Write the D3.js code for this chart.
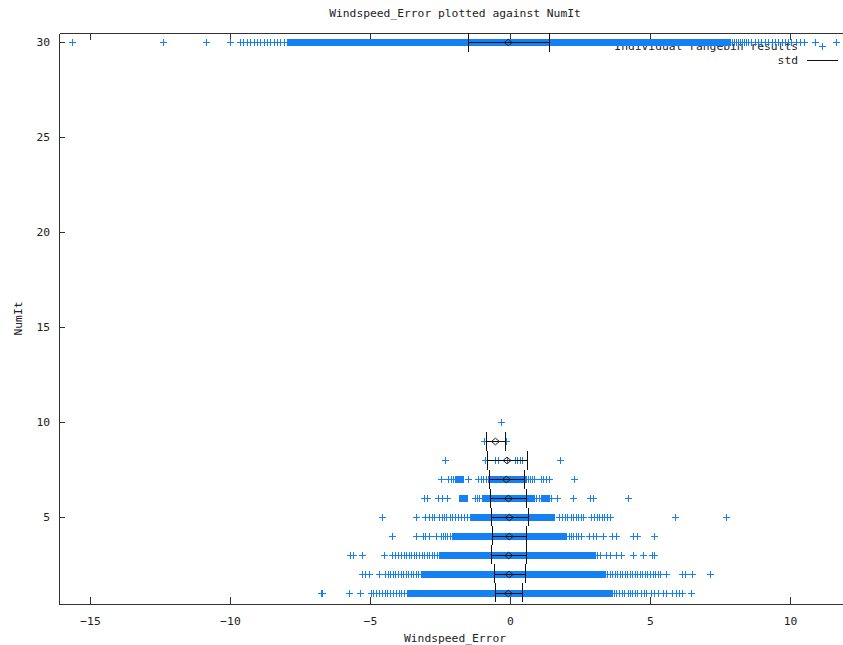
<!DOCTYPE html>
<html>
<head>
<meta charset="utf-8">
<script src="https://cdn.jsdelivr.net/npm/d3@7/dist/d3.min.js"></script>
<style>
  html, body { margin: 0; padding: 0; background: #fff; }
  svg { display: block; }
  text { font-family: "DejaVu Sans Mono", "Liberation Mono", monospace; font-size: 11.3px; fill: #222; }
</style>
</head>
<body>
<svg id="chart" width="843" height="645"></svg>
<script>
// NumIt rows that carry individual rangebin results
const numIt = [1, 2, 3, 4, 5, 6, 7, 8, 9, 10, 30];

// Stretches of Windspeed_Error where the results are packed solid, per row
const denseRuns = [
  [[-3.55, -3.1], [-3.0, 2.89], [2.95, 3.05], [3.15, 3.55]],
  [[-3.08, 3.29]],
  [[-2.42, 1.69], [1.75, 2.23], [2.35, 2.94]],
  [[-1.97, 1.55], [1.62, 1.88]],
  [[-1.29, 1.0], [1.1, 1.25], [1.35, 1.47]],
  [[-1.73, -1.64], [-0.85, 0.72], [1.22, 1.30]],
  [[-1.86, -1.79], [-0.67, 0.47]],
  [],
  [],
  [],
  [[-7.86, 7.7]]
];

// Individual Windspeed_Error values outside the packed stretches, per row
const sparseErr = [
  [-6.76, -6.70, -5.75, -5.37, -4.98, -4.88, -4.78, -4.68, -4.58, -4.48, -4.38, -4.28, -4.18, -4.08, -3.98, -3.88,
   -3.78, -3.68, 3.62, 3.72, 3.80, 3.90, 3.99, 4.08, 4.20, 4.28, 4.37, 4.47, 4.55, 4.67, 4.78, 4.85, 5.03, 5.15,
   5.30, 5.45, 5.57, 5.80, 5.92, 6.04, 6.16, 6.45],
  [-5.28, -5.18, -5.04, -4.68, -4.45, -4.36, -4.27, -4.18, -4.09, -4.00, -3.91, -3.82, -3.73, -3.64, -3.55,
   -3.46, -3.37, -3.28, -3.19,
   3.38, 3.47, 3.56, 3.65, 3.74, 3.83, 3.92, 4.01, 4.10, 4.19, 4.28, 4.37, 4.46, 4.55, 4.64, 4.73, 4.82,
   4.91, 5.00, 5.09, 5.18, 5.27, 5.36, 5.57, 6.14, 6.26, 6.50, 7.14],
  [-5.70, -5.60, -5.28, -4.51, -4.20, -4.10, -4.00, -3.90, -3.80, -3.70, -3.61, -3.52, -3.43, -3.34, -3.25,
   -3.16, -3.07, -2.98, -2.89, -2.80, -2.71, -2.62, -2.53,
   3.02, 3.11, 3.20, 3.42, 3.56, 3.78, 3.96, 4.38, 4.74, 5.08, 5.16],
  [-4.23, -3.37, -3.11, -3.02, -2.90, -2.66, -2.47, -2.40, -2.33, -2.25, -2.16, -2.07,
   1.99, 2.09, 2.17, 2.25, 2.35, 2.44, 2.53, 2.83, 2.95, 3.07, 3.33, 3.66, 3.78, 4.38, 4.52, 5.13],
  [-4.57, -3.37, -3.02, -2.90, -2.80, -2.72, -2.54, -2.44, -2.35, -2.27, -2.16, -2.06, -1.97, -1.87, -1.75,
   -1.66, -1.54, -1.44, -1.37, 1.75, 1.87, 1.95, 2.05, 2.17, 2.25, 2.35, 2.44, 2.53, 2.61,
   2.89, 2.99, 3.09, 3.18, 3.28, 3.37, 3.47, 3.57, 5.89, 7.73],
  [-3.07, -2.95, -2.56, -2.44, -2.24, -1.25, -1.17, -1.09, -0.99, -0.92,
   0.84, 0.92, 1.02, 1.11, 1.40, 1.47, 1.69, 2.25, 2.85, 2.97, 4.22],
  [-2.47, -2.21, -2.12, -2.04, -1.49, -1.13, -1.04, -0.95, -0.86,
   0.56, 0.63, 0.70, 0.80, 0.87, 1.11, 1.19, 1.29, 1.40, 2.30],
  [-2.32, -0.89, -0.55, -0.43, -0.12, 0.18, 0.26, 0.35, 0.42, 1.79],
  [-0.92, -0.15],
  [-0.31],
  [-15.65, -12.40, -10.85, -10.00, -9.64, -9.52, -9.40, -9.28, -9.16, -9.04, -8.92, -8.80, -8.68, -8.56,
   -8.44, -8.32, -8.20, -8.08, -7.96,
   7.78, 7.85, 7.92, 7.99, 8.06, 8.13, 8.20, 8.27, 8.34, 8.42,
   8.50, 8.62, 8.74, 8.86, 8.98, 9.10, 9.22, 9.34, 9.46, 9.58, 9.70, 9.82, 9.94, 10.05,
   10.20, 10.36, 10.50, 10.90, 11.64]
];

// Mean and standard deviation of Windspeed_Error for each NumIt
const statNumIt = [1, 2, 3, 4, 5, 6, 7, 8, 9, 30];
const meanErr  = [-0.06, -0.03, -0.045, -0.025, -0.025, -0.06, -0.13, -0.105, -0.52, -0.065];
const stdErr   = [0.49, 0.555, 0.625, 0.605, 0.665, 0.64, 0.62, 0.705, 0.33, 1.445];

const xTicks = [-15, -10, -5, 0, 5, 10];
const yTicks = [5, 10, 15, 20, 25, 30];

const titleText = "Windspeed_Error plotted against NumIt";
const xLabel = "Windspeed_Error";
const yLabel = "NumIt";
const legendPoints = "Individual rangebin results";
const legendStd = "std";

const W = 843, H = 645;
const plot = { left: 59, right: 843, top: 33, bottom: 604 };
const blue = "#1480f4";

const svg = d3.select("#chart");
svg.append("rect").attr("width", W).attr("height", H).attr("fill", "#fff");

const x = d3.scaleLinear().domain([-16.107, 11.893]).range([plot.left, plot.right]);
const y = d3.scaleLinear().domain([0.421, 30.474]).range([plot.bottom, plot.top]);

// Axes with inward ticks, gnuplot style
const axisColor = "#333";
const gx = svg.append("g").attr("transform", `translate(0,${plot.bottom})`)
  .call(d3.axisBottom(x).tickValues(xTicks).tickSizeInner(-7).tickSizeOuter(0).tickPadding(13).tickFormat(d3.format("d")));
const gxTop = svg.append("g").attr("transform", `translate(0,${plot.top})`)
  .call(d3.axisTop(x).tickValues(xTicks).tickSizeInner(-7).tickSizeOuter(0).tickFormat(""));
const gy = svg.append("g").attr("transform", `translate(${plot.left},0)`)
  .call(d3.axisLeft(y).tickValues(yTicks).tickSizeInner(-6).tickSizeOuter(0).tickPadding(9).tickFormat(d3.format("d")));
[gx, gxTop, gy].forEach(g => {
  g.selectAll("path.domain").attr("stroke", axisColor).attr("shape-rendering", "crispEdges");
  g.selectAll(".tick line").attr("stroke", axisColor).attr("shape-rendering", "crispEdges");
  g.selectAll("text").attr("fill", "#222").attr("font-family", null).attr("font-size", null);
});
gy.selectAll("text").attr("dy", "0.35em");

// Titles
svg.append("text").attr("x", 455).attr("y", 17).attr("text-anchor", "middle").text(titleText);
svg.append("text").attr("x", 455).attr("y", 642).attr("text-anchor", "middle").text(xLabel);
svg.append("text").attr("transform", `translate(22,${(plot.top + plot.bottom) / 2}) rotate(-90)`)
  .attr("text-anchor", "middle").text(yLabel);

// Key text sits beneath the data
svg.append("text").attr("x", 798).attr("y", 50).attr("text-anchor", "end").text(legendPoints);
svg.append("text").attr("x", 798).attr("y", 64).attr("text-anchor", "end").text(legendStd);

const plusPath = "M-3,0H4M0.5,-3.5V3.5";
const data = svg.append("g");

numIt.forEach((n, i) => {
  const cy = Math.round(y(n));
  data.selectAll(null).data(denseRuns[i]).enter().append("rect")
    .attr("x", d => Math.round(x(d[0])) - 3)
    .attr("width", d => Math.round(x(d[1])) - Math.round(x(d[0])) + 7)
    .attr("y", cy - 3).attr("height", 7)
    .attr("fill", blue);
  data.selectAll(null).data(sparseErr[i]).enter().append("path")
    .attr("d", plusPath)
    .attr("transform", d => `translate(${Math.round(x(d))},${cy + 0.5})`)
    .attr("stroke", blue).attr("stroke-width", 1).attr("fill", "none")
    .attr("shape-rendering", "crispEdges");
});

// Key sample for the individual results
svg.append("path").attr("d", plusPath).attr("transform", "translate(822,46.5)")
  .attr("stroke", blue).attr("fill", "none").attr("shape-rendering", "crispEdges");

// Mean +/- std error bars
const stats = statNumIt.map((n, i) => ({ n, m: meanErr[i], s: stdErr[i] }));
const eb = svg.append("g").attr("stroke", "#111").attr("stroke-width", 1).attr("fill", "none")
  .attr("shape-rendering", "crispEdges");
eb.selectAll("line.bar").data(stats).enter().append("line")
  .attr("x1", d => x(d.m - d.s)).attr("x2", d => x(d.m + d.s))
  .attr("y1", d => Math.round(y(d.n)) + 0.5).attr("y2", d => Math.round(y(d.n)) + 0.5);
["lo", "hi"].forEach(side => {
  eb.selectAll(null).data(stats).enter().append("line")
    .attr("x1", d => Math.round(x(side === "lo" ? d.m - d.s : d.m + d.s)) + 0.5)
    .attr("x2", d => Math.round(x(side === "lo" ? d.m - d.s : d.m + d.s)) + 0.5)
    .attr("y1", d => Math.max(plot.top, y(d.n + 0.5)))
    .attr("y2", d => y(d.n - 0.5));
});
svg.append("g").selectAll("path").data(stats).enter().append("path")
  .attr("d", "M-4,0L0,-3.3L4,0L0,3.3Z")
  .attr("transform", d => `translate(${x(d.m)},${Math.round(y(d.n)) + 0.5})`)
  .attr("stroke", "#222").attr("stroke-width", 1).attr("fill", "none");

// Key sample for std
svg.append("line").attr("x1", 807).attr("x2", 838).attr("y1", 60.5).attr("y2", 60.5)
  .attr("stroke", "#111").attr("shape-rendering", "crispEdges");
</script>
</body>
</html>
